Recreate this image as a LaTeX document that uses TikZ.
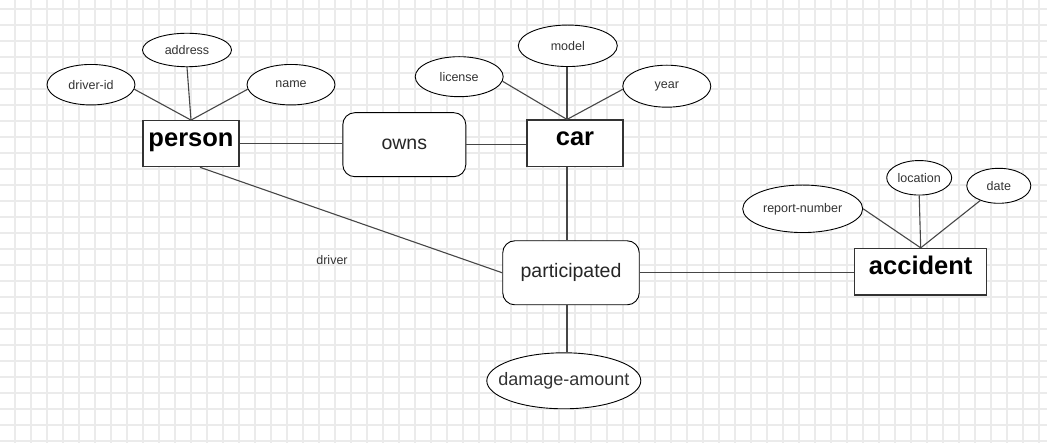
\documentclass[tikz,border=0pt]{standalone}
\usepackage{fontspec}
\setmainfont{Liberation Sans}
\usepackage{xcolor}
\usepackage{tikz}
\usetikzlibrary{shapes.geometric}
\definecolor{gridgray}{RGB}{235,235,235}
\definecolor{linegray}{RGB}{70,70,70}
\tikzstyle{gridline} = [draw=gridgray, line width=1.5bp]
\tikzstyle{entity}   = [rectangle, draw=black!80, fill=white, line width=1.2bp, inner sep=0pt,
                        text height=11bp, text depth=6bp, font=\fontsize{25.5bp}{30bp}\selectfont\bfseries]
\tikzstyle{relation} = [rectangle, rounded corners=12bp, draw=black, fill=white, line width=0.9bp,
                        inner sep=0pt, font=\fontsize{19.5bp}{23bp}\selectfont, text=black!85]
\tikzstyle{attr}     = [ellipse, draw=black, fill=white, line width=0.9bp, inner sep=0pt,
                        font=\fontsize{12.5bp}{15bp}\selectfont, text=black!80]
\tikzstyle{link}     = [draw=linegray, line width=1.1bp]
\tikzset{every node/.style={align=center}}

\begin{document}
\begin{tikzpicture}[x=1bp, y=-1bp]
  \useasboundingbox (0,0) rectangle (1047,443);
  % Grid
  \foreach \gx in {15,31,...,1039}
      \draw[gridline] (\gx,0) -- (\gx,443);
  \foreach \gy in {9,25,...,441}
      \draw[gridline] (0,\gy) -- (1047,\gy);
  % Entities
  \node[entity, minimum width=96bp, minimum height=46bp] (person) at (191,143.7) {person};
  \node[entity, minimum width=96bp, minimum height=46.5bp] (car) at (575,143.3) {car};
  \node[entity, minimum width=132bp, minimum height=46.5bp] (acc) at (920.7,271.7) {accident};
  % Relationships
  \node[relation, minimum width=123bp, minimum height=64bp] (owns) at (404.3,144.7) {owns};
  \node[relation, minimum width=136.5bp, minimum height=64bp] (part) at (571,272.8) {participated};
  % Attributes of person
  \node[attr, minimum width=88bp, minimum height=40.5bp] (did) at (91,84.7) {driver-id};
  \node[attr, minimum width=89bp, minimum height=33.5bp] (addr) at (187,50) {address};
  \node[attr, minimum width=88bp, minimum height=40.5bp] (name) at (291,84.7) {name};
  % Attributes of car
  \node[attr, minimum width=88bp, minimum height=40bp] (lic) at (459.2,76.7) {license};
  \node[attr, minimum width=99bp, minimum height=41.5bp] (model) at (567.8,45.8) {model};
  \node[attr, minimum width=88bp, minimum height=42bp] (year) at (666.8,86.2) {year};
  % Attributes of accident
  \node[attr, minimum width=120bp, minimum height=47.5bp] (rnum) at (802.7,208.8) {report-number};
  \node[attr, minimum width=65bp, minimum height=34.5bp] (loc) at (919.2,177.8) {\makebox[40bp]{location}};
  \node[attr, minimum width=64bp, minimum height=35bp] (date) at (998.8,185.8) {date};
  % Attribute of participated
  \node[attr, minimum width=154bp, minimum height=56bp, font=\fontsize{18bp}{22bp}\selectfont]
      (dmg) at (563.8,380.8) {\makebox[100bp]{damage-amount}};
  % Role label
  \node[font=\fontsize{12.5bp}{15bp}\selectfont, text=black!80] (drv) at (332,260) {driver};
  % Connectors
  \coordinate (axis) at (567,0);
  \draw[link] (did.-6) -- (person.north);
  \draw[link] (addr.south) -- (person.north);
  \draw[link] (name.186) -- (person.north);
  \draw[link] (lic.-6) -- (car.north -| axis);
  \draw[link] (model.south -| axis) -- (car.north -| axis);
  \draw[link] (year.184) -- (car.north -| axis);
  \draw[link] (rnum.east) -- (acc.north);
  \draw[link] (loc.south) -- (acc.north);
  \draw[link] (acc.north) -- (date);
  \draw[link] (person.east) -- (person.east -| owns.west);
  \draw[link] (owns.east) -- (owns.east -| car.west);
  \draw[link] (car.south -| axis) -- (part.north -| axis);
  \draw[link] ([xshift=9bp]person.south) -- (part.west);
  \draw[link] (part.east) -- (part.east -| acc.west);
  \draw[link] (part.south -| axis) -- (dmg.north -| axis);
\end{tikzpicture}
\end{document}
